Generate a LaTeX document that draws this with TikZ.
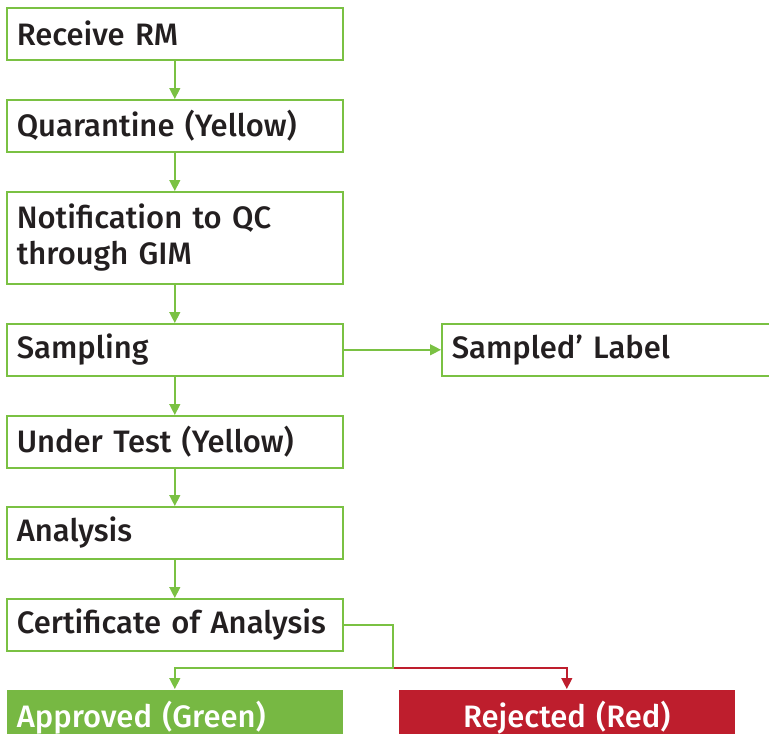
\documentclass[tikz,border=0pt]{standalone}
\usepackage{fontspec}
\setmainfont{Fira Sans}[UprightFont=* Medium]
\usetikzlibrary{arrows.meta}
\definecolor{lgreen}{HTML}{7AC143}
\definecolor{fgreen}{HTML}{77B843}
\definecolor{fred}{HTML}{BE1E2D}
\definecolor{txt}{HTML}{231F20}
\begin{document}
\begin{tikzpicture}[x=1pt,y=-1pt,
  box/.style={draw=lgreen, line width=1.6pt, minimum height=52pt, anchor=north west,
    inner xsep=10pt, text width=316pt, align=left, font=\fontsize{31}{36}\selectfont, text=txt},
  filled/.style={box, draw=none, minimum height=56pt, text=white},
  conn/.style={draw=lgreen, line width=1.4pt, -{Triangle[width=11pt,length=11pt]}},
  rconn/.style={draw=fred, line width=1.4pt, -{Triangle[width=11pt,length=11pt]}}]
\useasboundingbox (0,0) rectangle (769,734);
\clip (0,0) rectangle (769,734);
\node[box] (r) at (6,7) {Receive RM};
\node[box] (q) at (6,99) {Quarantine (Yellow)};
\node[box, minimum height=92pt] (n) at (6,191) {Notification to QC\\through GIM};
\node[box] (s) at (6,323) {Sampling};
\node[box] (l) at (441,323) {Sampled' Label};
\node[box] (u) at (6,415) {Under Test (Yellow)};
\node[box] (an) at (6,506) {Analysis};
\node[box] (c) at (6,598) {Certificate of Analysis};
\node[filled, fill=fgreen] (ap) at (6,689) {Approved (Green)};
\node[filled, fill=fred, align=center] (rj) at (398,689) {Rejected (Red)};
\coordinate (j) at (393,668);
\draw[conn] (r) -- (q);
\draw[conn] (q) -- (n);
\draw[conn] (n) -- (s);
\draw[conn] (s) -- (l);
\draw[conn] (s) -- (u);
\draw[conn] (u) -- (an);
\draw[conn] (an) -- (c);
\draw[rconn] (j) -| (rj.north);
\draw[conn] (c.east) -| (j) -| (ap.north);
\end{tikzpicture}
\end{document}
